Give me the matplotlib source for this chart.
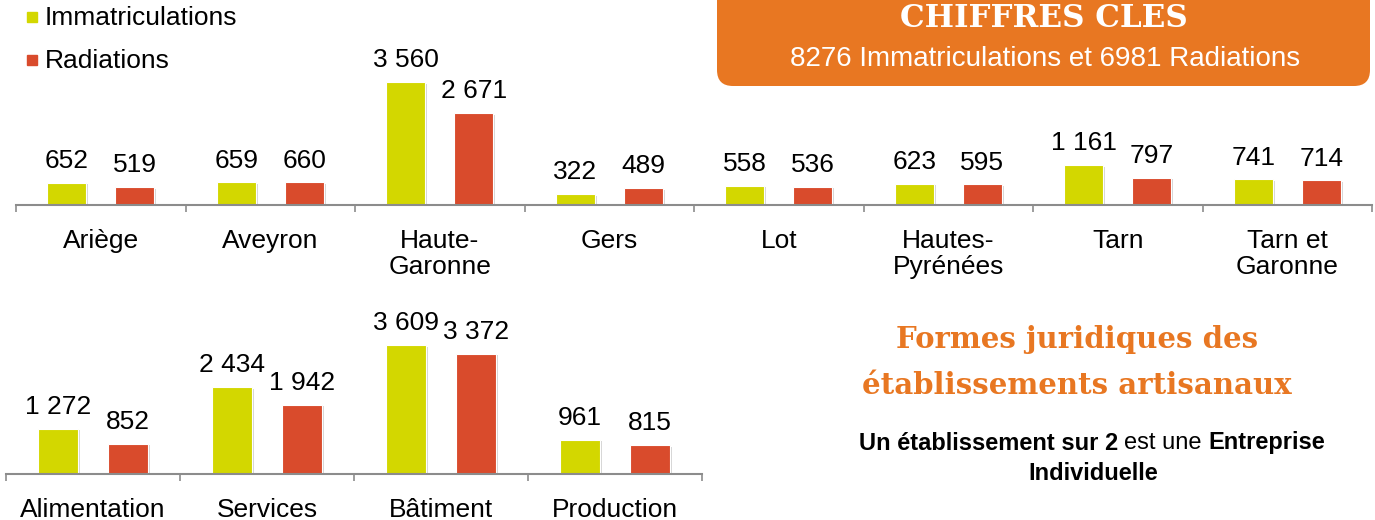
import numpy as np
import matplotlib
matplotlib.use("Agg")
import matplotlib.pyplot as plt
from matplotlib import patheffects as pe
from matplotlib import font_manager as fm
from matplotlib.patches import FancyBboxPatch

# --- data ---
departements = ["Ariège", "Aveyron", "Haute-\nGaronne", "Gers", "Lot",
                "Hautes-\nPyrénées", "Tarn", "Tarn et\nGaronne"]
immat_dep = [652, 659, 3560, 322, 558, 623, 1161, 741]
radiat_dep = [519, 660, 2671, 489, 536, 595, 797, 714]

secteurs = ["Alimentation", "Services", "Bâtiment", "Production"]
immat_sect = [1272, 2434, 3609, 961]
radiat_sect = [852, 1942, 3372, 815]

serie_labels = ["Immatriculations", "Radiations"]
total_immat = 8276
total_radiat = 6981

YELLOW = "#d3d700"
RED = "#d94b2c"
ORANGE = "#e87722"
GRAY = "#8c8c8c"

names = {f.name for f in fm.fontManager.ttflist}
SANS = "Liberation Sans" if "Liberation Sans" in names else "DejaVu Sans"
NARROW = "Liberation Sans Narrow" if "Liberation Sans Narrow" in names else SANS
SLAB = "DejaVu Serif"
plt.rcParams["font.family"] = [SANS, "DejaVu Sans"]

W, H = 1375, 520
FS = 19


def fmt(v):
    return f"{v:,}".replace(",", " ")


def draw_bars(ax, cats, v1, v2, ymax, pad):
    n = len(cats)
    x = np.arange(n)
    shadow = [pe.SimplePatchShadow(offset=(1.5, -1.2), shadow_rgbFace="#888888", alpha=0.35),
              pe.Normal()]
    b1 = ax.bar(x + 0.30, v1, width=0.23, color=YELLOW, edgecolor="white",
                linewidth=0.8, path_effects=shadow)
    b2 = ax.bar(x + 0.70, v2, width=0.23, color=RED, edgecolor="white",
                linewidth=0.8, path_effects=shadow)
    for bars, vals in ((b1, v1), (b2, v2)):
        for b, v in zip(bars, vals):
            ax.annotate(fmt(v), (b.get_x() + b.get_width() / 2, v),
                        xytext=(0, 7), textcoords="offset points",
                        ha="center", va="bottom", fontsize=FS,
                        annotation_clip=False)
    ax.set_xlim(0, n)
    ax.set_ylim(0, ymax)
    ax.set_xticks(np.arange(n + 1))
    ax.set_xticklabels([])
    ax.set_xticks(x + 0.5, minor=True)
    ax.set_xticklabels(cats, minor=True, fontsize=FS, linespacing=1.12)
    ax.tick_params(axis="x", which="major", length=5, width=1.2, color=GRAY)
    ax.tick_params(axis="x", which="minor", length=0, pad=pad)
    ax.set_yticks([])
    for s in ("top", "left", "right"):
        ax.spines[s].set_visible(False)
    ax.spines["bottom"].set_color(GRAY)
    ax.spines["bottom"].set_linewidth(1.5)
    ax.patch.set_alpha(0)
    return b1, b2


fig = plt.figure(figsize=(W / 100, H / 100), dpi=100)

# overlay in pixel coordinates (y downwards) for the decorations
ov = fig.add_axes([0, 0, 1, 1], zorder=0)
ov.set_xlim(0, W)
ov.set_ylim(H, 0)
ov.axis("off")

# top chart: departements (baseline y=205 px)
ax1 = fig.add_axes([16 / W, (H - 205) / H, 1356 / W, 150 / H], zorder=1)
draw_bars(ax1, departements, immat_dep, radiat_dep, 150 / 0.0345, pad=17)

# bottom chart: secteurs (baseline y=474 px)
ax2 = fig.add_axes([6 / W, (H - 474) / H, 696 / W, 150 / H], zorder=1)
draw_bars(ax2, secteurs, immat_sect, radiat_sect, 150 / 0.0357, pad=17)

# legend
for y, c, lab in ((17, YELLOW, serie_labels[0]), (60, RED, serie_labels[1])):
    ov.add_patch(plt.Rectangle((27, y - 5), 10, 10, color=c))
    ov.text(45, y + 1, lab, fontsize=FS, va="center", ha="left")

# orange key-figures box
box = FancyBboxPatch((717, -40), 653, 126, boxstyle="round,pad=0,rounding_size=16",
                     facecolor=ORANGE, edgecolor="none")
ov.add_patch(box)
ov.text(1044, 27, "CHIFFRES CLES", family=SLAB, fontweight="bold", fontsize=22.3,
        color="white", ha="center", va="baseline")
ov.text(1045, 59, f"{total_immat} Immatriculations et {total_radiat} Radiations",
        family=NARROW, fontsize=20, color="white", ha="center", va="center")

# legal forms block
ov.text(1077, 340, "Formes juridiques des", family=SLAB, fontweight="bold",
        fontsize=21, color=ORANGE, ha="center", va="center")
ov.text(1077, 385, "établissements artisanaux", family=SLAB, fontweight="bold",
        fontsize=21, color=ORANGE, ha="center", va="center")

fig.canvas.draw()
renderer = fig.canvas.get_renderer()
SFS = 17


def text_width(s, weight):
    t = ov.text(0, 0, s, fontsize=SFS, fontweight=weight)
    w = t.get_window_extent(renderer).width
    t.remove()
    return w


pieces = [("Un établissement sur 2", "bold"), ("est une", "normal"), ("Entreprise", "bold")]
gap = text_width("a a", "normal") - text_width("aa", "normal")
widths = [text_width(s, wgt) for s, wgt in pieces]
x0 = 1092 - (sum(widths) + gap * (len(pieces) - 1)) / 2
for (s, wgt), w in zip(pieces, widths):
    ov.text(x0, 443, s, fontsize=SFS, fontweight=wgt, ha="left", va="center")
    x0 += w + gap
ov.text(1093, 473, "Individuelle", fontsize=SFS, fontweight="bold", ha="center", va="center")

fig.savefig("out.png", dpi=100)
